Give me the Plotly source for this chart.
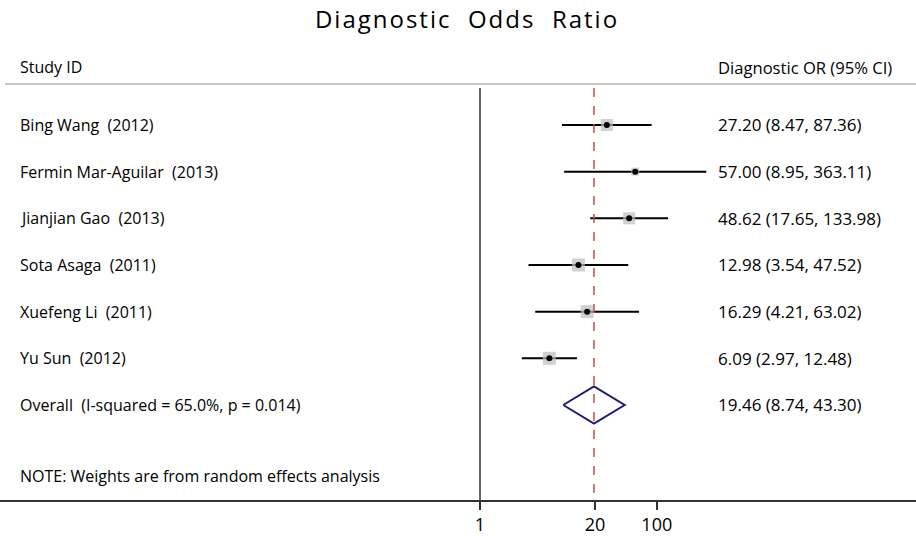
import plotly.graph_objects as go

studies = ["Bing Wang  (2012)", "Fermin Mar-Aguilar  (2013)", "Jianjian Gao  (2013)",
           "Sota Asaga  (2011)", "Xuefeng Li  (2011)", "Yu Sun  (2012)"]
orr = [27.20, 57.00, 48.62, 12.98, 16.29, 6.09]
lo = [8.47, 8.95, 17.65, 3.54, 4.21, 2.97]
hi = [87.36, 363.11, 133.98, 47.52, 63.02, 12.48]
wsize = [12, 8, 12, 13, 13, 13]
overall_label = "Overall  (I-squared = 65.0%, p = 0.014)"
overall = [19.46, 8.74, 43.30]
note = "NOTE: Weights are from random effects analysis"
tickvals = [1, 20, 100]

rows = list(range(1, len(studies) + 1))
orow = len(studies) + 1
FONT = "Open Sans"
FL = 16
FR = 17

fig = go.Figure()
for r, l, h in zip(rows, lo, hi):
    fig.add_trace(go.Scatter(x=[l, h], y=[r, r], mode="lines",
                             line=dict(color="black", width=2), showlegend=False, hoverinfo="skip"))
fig.add_trace(go.Scatter(x=orr, y=rows, mode="markers",
                         marker=dict(symbol="square", size=wsize, color="#bdbdbd", line=dict(width=0)),
                         showlegend=False))
fig.add_trace(go.Scatter(x=orr, y=rows, mode="markers",
                         marker=dict(symbol="circle", size=6, color="black"), showlegend=False))
dh = 0.4
fig.add_trace(go.Scatter(x=[overall[1], overall[0], overall[2], overall[0], overall[1]],
                         y=[orow, orow - dh, orow, orow + dh, orow], mode="lines",
                         line=dict(color="#1c1c78", width=2), fill="toself", fillcolor="white",
                         showlegend=False))

ytop = 0.122
ybot = 9.036
fig.add_shape(type="line", x0=1, x1=1, xref="x", y0=0.21, y1=ybot, yref="y",
              line=dict(color="#333333", width=1.5))
fig.add_shape(type="line", x0=overall[0], x1=overall[0], xref="x", y0=0.21, y1=ybot, yref="y",
              line=dict(color="#c0504d", width=1.5, dash="dash"))
fig.add_shape(type="line", x0=5/916, x1=1, xref="paper", y0=1, y1=1, yref="paper",
              line=dict(color="#c8c8c8", width=2))

LX = 18/916
RX = 716/916
for r, s, o, l, h in zip(rows, studies, orr, lo, hi):
    fig.add_annotation(x=LX, y=r, xref="paper", yref="y", text=s, showarrow=False,
                       xanchor="left", yanchor="middle", font=dict(size=FL))
    fig.add_annotation(x=RX, y=r, xref="paper", yref="y", text=f"{o:.2f} ({l:.2f}, {h:.2f})",
                       showarrow=False, xanchor="left", yanchor="middle", font=dict(size=FR))
fig.add_annotation(x=LX, y=orow, xref="paper", yref="y", text=overall_label, showarrow=False,
                   xanchor="left", yanchor="middle", font=dict(size=FL))
fig.add_annotation(x=RX, y=orow, xref="paper", yref="y",
                   text=f"{overall[0]:.2f} ({overall[1]:.2f}, {overall[2]:.2f})",
                   showarrow=False, xanchor="left", yanchor="middle", font=dict(size=FR))
fig.add_annotation(x=LX, y=8.52, xref="paper", yref="y", text=note, showarrow=False,
                   xanchor="left", yanchor="middle", font=dict(size=FL))
fig.add_annotation(x=LX, y=1, xref="paper", yref="paper", text="Study ID", showarrow=False,
                   xanchor="left", yanchor="middle", yshift=17, font=dict(size=FL))
fig.add_annotation(x=RX, y=1, xref="paper", yref="paper", text="Diagnostic OR (95% CI)",
                   showarrow=False, xanchor="left", yanchor="middle", yshift=17, font=dict(size=FL + 0.6))

fig.update_layout(
    width=916, height=536,
    margin=dict(l=0, r=0, t=84, b=36),
    plot_bgcolor="white", paper_bgcolor="white",
    font=dict(family=FONT, size=FL, color="black"),
    title=dict(text="Diagnostic  Odds  Ratio", x=467/916, xanchor="center", y=1 - 20/536,
               yanchor="middle", font=dict(size=24, family=FONT)),
    xaxis=dict(type="log", range=[-5.43, 4.932], tickvals=tickvals, ticktext=[str(t) for t in tickvals],
               showgrid=False, zeroline=False, showline=True, linecolor="#333333", linewidth=1.5,
               ticks="outside", ticklen=8, tickwidth=1.5, tickcolor="#333333",
               tickfont=dict(size=18, family=FONT)),
    yaxis=dict(range=[ybot, ytop], showgrid=False, zeroline=False, showticklabels=False,
               showline=False),
    showlegend=False,
)
post = ("document.body.style.margin='0';document.body.style.padding='0';"
        "document.querySelectorAll('.gtitle').forEach(function(e){e.style.letterSpacing='2px';});")
fig.write_html("out.html", post_script=post, config={"displayModeBar": False})
